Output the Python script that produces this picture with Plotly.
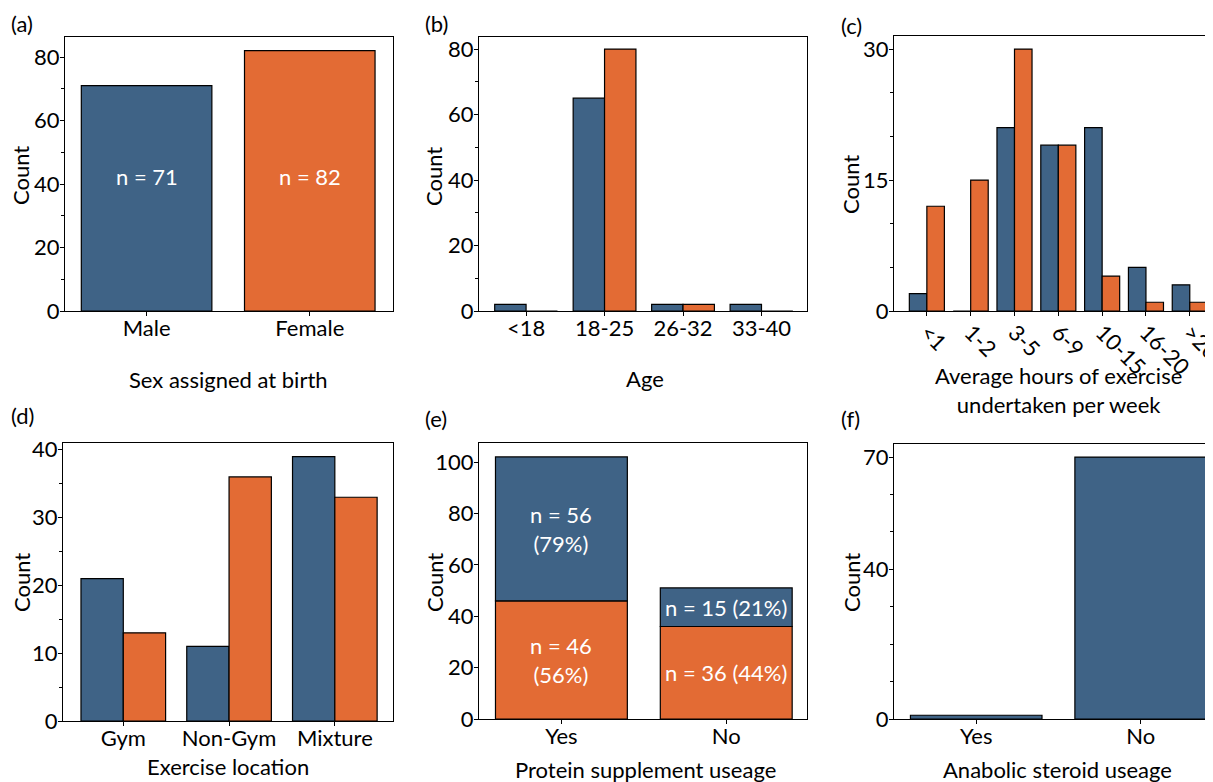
import plotly.graph_objects as go

# page body has an 8px margin: figure sized to fill the rest of the window
OFF = 8
FW, FH = 1213 - OFF, 782 - OFF
BLUE = "#3F6386"
ORANGE = "#E36B34"
FONT = "Lato"
FS = 22

# ---------------- data ----------------
sex_cats = ["Male", "Female"]
sex_counts = [71, 82]
sex_text = ["n = 71", "n = 82"]

age_cats = ["<18", "18-25", "26-32", "33-40"]
age_male = [2, 65, 2, 2]
age_female = [0, 80, 2, 0]

hours_cats = ["<1", "1-2", "3-5", "6-9", "10-15", "16-20", ">20"]
hours_male = [2, 0, 21, 19, 21, 5, 3]
hours_female = [12, 15, 30, 19, 4, 1, 1]

loc_cats = ["Gym", "Non-Gym", "Mixture"]
loc_male = [21, 11, 39]
loc_female = [13, 36, 33]

prot_cats = ["Yes", "No"]
prot_female = [46, 36]
prot_male = [56, 15]
prot_female_text = ["n = 46<br>(56%)", "n = 36 (44%)"]
prot_male_text = ["n = 56<br>(79%)", "n = 15 (21%)"]

ster_cats = ["Yes", "No"]
ster_counts = [1, 70]

# ---------------- layout helpers (screen pixels -> paper) ----------------
def px(x):
    return min(max((x - OFF) / FW, 0.0), 1.0)

def py(y):
    return min(max(1 - (y - OFF) / FH, 0.0), 1.0)

def xd(a, b):
    return [px(a), px(b)]

def yd(top, bottom):
    return [py(bottom), py(top)]

fig = go.Figure()
line = dict(color="black", width=1.2)

def bar(x, y, color, ax, **kw):
    fig.add_trace(go.Bar(x=x, y=y, marker=dict(color=color, line=line),
                         xaxis="x" + ax, yaxis="y" + ax, showlegend=False,
                         hoverinfo="x+y", **kw))

# (a)
bar(sex_cats, sex_counts, [BLUE, ORANGE], "")
# (b)
bar(age_cats, age_male, BLUE, "2", offsetgroup="m")
bar(age_cats, age_female, ORANGE, "2", offsetgroup="f")
# (c)
bar(hours_cats, hours_male, BLUE, "3", offsetgroup="m")
bar(hours_cats, hours_female, ORANGE, "3", offsetgroup="f")
# (d)
bar(loc_cats, loc_male, BLUE, "4", offsetgroup="m")
bar(loc_cats, loc_female, ORANGE, "4", offsetgroup="f")
# (e) stacked
bar(prot_cats, prot_female, ORANGE, "5", offsetgroup="s")
bar(prot_cats, prot_male, BLUE, "5", offsetgroup="s", base=prot_female)
# (f)
bar(ster_cats, ster_counts, BLUE, "6")

tickfont = dict(family=FONT, size=FS, color="black")

def xaxis(dom, anchor, rng, cats, angle=0, standoff=-7):
    return dict(domain=dom, anchor=anchor, range=rng, type="category",
                categoryorder="array", categoryarray=cats,
                showline=True, linecolor="black", linewidth=1.3, mirror=True,
                ticks="outside", ticklen=4, tickcolor="black", tickwidth=1.2,
                tickfont=tickfont, tickangle=angle, showgrid=False, zeroline=False,
                ticklabelstandoff=standoff,
                fixedrange=True, automargin=False)

def yaxis(dom, anchor, rng, dtick, minor):
    d = dict(domain=dom, anchor=anchor, range=rng,
             showline=True, linecolor="black", linewidth=1.3, mirror=True,
             ticks="outside", ticklen=4, tickcolor="black", tickwidth=1.2,
             dtick=dtick, tick0=0, tickfont=tickfont, showgrid=False,
             ticklabelstandoff=-4,
             zeroline=False, fixedrange=True, automargin=False)
    if minor:
        d["minor"] = dict(ticks="outside", ticklen=3, tickcolor="black",
                          dtick=minor, tick0=0, showgrid=False)
    return d

layout = dict(
    width=FW, height=FH, margin=dict(l=0, r=0, t=0, b=0),
    paper_bgcolor="white", plot_bgcolor="white",
    barmode="group", bargap=0.2, bargroupgap=0,
    font=dict(family=FONT, color="black"),
    xaxis=xaxis(xd(65, 393), "y", [-0.5, 1.51], sex_cats),
    yaxis=yaxis(yd(37, 311), "x", [0, 86.3], 20, 10),
    xaxis2=xaxis(xd(479, 807), "y2", [-0.6, 3.58], age_cats),
    yaxis2=yaxis(yd(37, 311), "x2", [0, 83.7], 20, 10),
    xaxis3=xaxis(xd(894, 1213), "y3", [-0.75, 6.53], hours_cats, angle=45, standoff=-5),
    yaxis3=yaxis(yd(36, 311), "x3", [0, 31.5], 15, 5),
    xaxis4=xaxis(xd(63, 393), "y4", [-0.57, 2.55], loc_cats),
    yaxis4=yaxis(yd(443, 721), "x4", [0, 41], 10, 5),
    xaxis5=xaxis(xd(479, 807), "y5", [-0.5, 1.49], prot_cats),
    yaxis5=yaxis(yd(443, 719), "x5", [0, 107.4], 20, None),
    xaxis6=xaxis(xd(894, 1213), "y6", [-0.5, 1.44], ster_cats),
    yaxis6=yaxis(yd(444, 719), "x6", [0, 73.5], 30, 10),
)
layout["yaxis6"]["tickvals"] = [0, 40, 70]
layout["yaxis6"]["tickmode"] = "array"

ann = []

def paper_text(txt, x, y, size=FS, angle=0):
    ann.append(dict(text=txt, x=px(x), y=py(y), xref="paper", yref="paper",
                    showarrow=False, xanchor="center", yanchor="middle",
                    textangle=angle, font=dict(family=FONT, size=size, color="black")))

# panel letters
for t, x, y in [("(a)", 22, 23), ("(b)", 436, 23), ("(c)", 851, 25),
                ("(d)", 22, 415), ("(e)", 436, 418), ("(f)", 850, 418)]:
    paper_text(t, x, y)

# y titles
for x, y in [(21, 176), (434, 177), (851, 185), (21, 583), (434, 583), (851, 583)]:
    paper_text("Count", x, y, angle=-90)

# x titles
paper_text("Sex assigned at birth", 228, 379)
paper_text("Age", 645, 378)
paper_text("Average hours of exercise<br>undertaken per week", 1058, 390)
paper_text("Exercise location", 228, 766)
paper_text("Protein supplement useage", 645, 769)
paper_text("Anabolic steroid useage", 1057, 769)

# in-bar labels
for c, t in zip(sex_cats, sex_text):
    ann.append(dict(text=t, x=c, y=42.5, xref="x", yref="y", showarrow=False,
                    font=dict(family=FONT, size=FS, color="white")))
for c, f, m, ft, mt in zip(prot_cats, prot_female, prot_male, prot_female_text, prot_male_text):
    ann.append(dict(text=ft, x=c, y=f / 2, xref="x5", yref="y5", showarrow=False,
                    font=dict(family=FONT, size=FS, color="white")))
    ann.append(dict(text=mt, x=c, y=f + m / 2, xref="x5", yref="y5", showarrow=False,
                    font=dict(family=FONT, size=FS, color="white")))

layout["annotations"] = ann
fig.update_layout(**layout)
fig.write_html("out.html")
